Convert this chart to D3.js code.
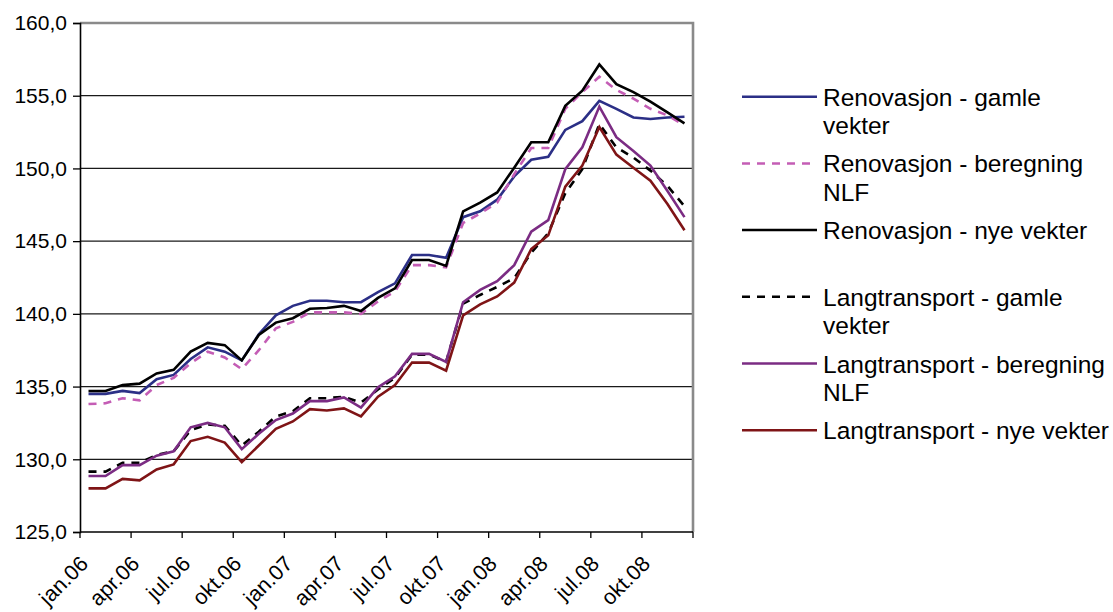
<!DOCTYPE html>
<html>
<head>
<meta charset="utf-8">
<script src="https://cdn.jsdelivr.net/npm/d3@7"></script>
<style>
  html, body { margin: 0; padding: 0; background: #fff; }
  svg { display: block; font-family: "Liberation Sans", Arial, sans-serif; }
</style>
</head>
<body>
<svg id="chart" width="1113" height="612"></svg>
<script>
// Monthly index, January 2006 – December 2008
const months = [
  "jan.06","feb.06","mar.06","apr.06","mai.06","jun.06","jul.06","aug.06","sep.06","okt.06","nov.06","des.06",
  "jan.07","feb.07","mar.07","apr.07","mai.07","jun.07","jul.07","aug.07","sep.07","okt.07","nov.07","des.07",
  "jan.08","feb.08","mar.08","apr.08","mai.08","jun.08","jul.08","aug.08","sep.08","okt.08","nov.08","des.08"
];
const labelledMonths = ["jan.06","apr.06","jul.06","okt.06","jan.07","apr.07","jul.07","okt.07","jan.08","apr.08","jul.08","okt.08"];
const yTicks = [125, 130, 135, 140, 145, 150, 155, 160];

const renGamle = [
  134.5,134.5,134.7,134.55,135.5,135.8,136.9,137.7,137.4,136.8,138.6,139.9,
  140.55,140.9,140.9,140.8,140.8,141.5,142.1,144.05,144.05,143.85,146.65,147.05,
  147.85,149.45,150.6,150.8,152.65,153.25,154.65,154.1,153.5,153.4,153.5,153.55
];
const renNLF = [
  133.8,133.85,134.2,134.05,135.1,135.6,136.6,137.4,137.0,136.2,137.5,139.0,
  139.45,140.1,140.1,140.1,140.0,140.85,141.55,143.35,143.35,143.2,146.25,146.9,
  147.65,149.6,151.4,151.4,154.1,155.25,156.3,155.4,154.8,154.1,153.65,152.95
];
const renNye = [
  134.7,134.7,135.1,135.2,135.9,136.15,137.4,138.0,137.85,136.8,138.55,139.4,
  139.7,140.35,140.4,140.55,140.2,141.1,141.75,143.7,143.7,143.3,147.05,147.65,
  148.35,150.05,151.8,151.8,154.3,155.35,157.15,155.8,155.25,154.6,153.85,153.1
];
const langGamle = [
  129.15,129.15,129.75,129.75,130.3,130.55,132.0,132.4,132.3,130.95,131.9,132.95,
  133.3,134.2,134.2,134.3,133.9,134.8,135.6,137.2,137.2,136.7,140.7,141.3,
  141.85,142.45,144.2,145.55,148.3,149.95,153.05,151.45,150.75,149.85,148.8,147.4
];
const langNLF = [
  128.85,128.85,129.6,129.6,130.25,130.55,132.2,132.5,132.2,130.7,131.75,132.7,
  133.15,134.0,134.0,134.25,133.55,134.95,135.7,137.25,137.25,136.7,140.8,141.65,
  142.25,143.35,145.65,146.45,149.95,151.45,154.25,152.15,151.2,150.2,148.45,146.65
];
const langNye = [
  128.0,128.0,128.65,128.55,129.3,129.65,131.25,131.55,131.15,129.8,130.95,132.1,
  132.6,133.45,133.35,133.5,132.95,134.3,135.1,136.65,136.65,136.1,139.9,140.65,
  141.2,142.15,144.45,145.4,148.75,150.2,152.85,150.95,150.05,149.15,147.55,145.75
];

const seriesNames = [
  ["Renovasjon - gamle", "vekter"],
  ["Renovasjon - beregning", "NLF"],
  ["Renovasjon - nye vekter"],
  ["Langtransport - gamle", "vekter"],
  ["Langtransport - beregning", "NLF"],
  ["Langtransport - nye vekter"]
];
const seriesValues = [renGamle, renNLF, renNye, langGamle, langNLF, langNye];
const seriesColors = ["#2b2f86", "#c45db5", "#000000", "#000000", "#7b2c83", "#7f1416"];
const seriesDash = [null, "8,7", null, "8,7", null, null];

const svg = d3.select("#chart");
const plot = { left: 80, right: 693, top: 23, bottom: 532 };

const x = d3.scaleBand().domain(months).range([plot.left, plot.right]).paddingInner(0).paddingOuter(0);
const y = d3.scaleLinear().domain([125, 160]).range([plot.bottom, plot.top]);
const xc = m => x(m) + x.bandwidth() / 2;

// horizontal gridlines
svg.append("g")
  .selectAll("line")
  .data(yTicks.filter(v => v > 125 && v < 160))
  .join("line")
  .attr("x1", plot.left).attr("x2", plot.right)
  .attr("y1", d => y(d)).attr("y2", d => y(d))
  .attr("stroke", "#1a1a1a").attr("stroke-width", 1.3);

// plot area frame (top and right)
svg.append("path")
  .attr("d", `M${plot.left},${plot.top}H${plot.right}V${plot.bottom}`)
  .attr("fill", "none").attr("stroke", "#8a8a8a").attr("stroke-width", 2.6);

// y axis
const yAxis = svg.append("g")
  .attr("transform", `translate(${plot.left},0)`)
  .call(d3.axisLeft(y).tickValues(yTicks).tickSize(7).tickPadding(6)
    .tickFormat(d => d3.format(".1f")(d).replace(".", ",")));
yAxis.select(".domain").attr("stroke", "#000").attr("stroke-width", 1.6);
yAxis.selectAll(".tick line").attr("stroke", "#000").attr("stroke-width", 1.3);
yAxis.selectAll("text").attr("font-size", 21).attr("fill", "#000")
  .attr("font-family", "Liberation Sans, Arial, sans-serif");

// x axis: tick marks every third month boundary
const boundaryTicks = d3.range(0, months.length + 1, 3).map(i => plot.left + i * x.bandwidth());
const xAxisG = svg.append("g");
xAxisG.append("line")
  .attr("x1", plot.left).attr("x2", plot.right)
  .attr("y1", plot.bottom).attr("y2", plot.bottom)
  .attr("stroke", "#000").attr("stroke-width", 1.6);
xAxisG.selectAll("line.tick")
  .data(boundaryTicks)
  .join("line").attr("class", "tick")
  .attr("x1", d => d).attr("x2", d => d)
  .attr("y1", plot.bottom).attr("y2", plot.bottom + 6)
  .attr("stroke", "#000").attr("stroke-width", 1.3);
xAxisG.selectAll("text")
  .data(labelledMonths)
  .join("text")
  .attr("transform", d => `translate(${xc(d) + 1},${plot.bottom + 33}) rotate(-45)`)
  .attr("text-anchor", "end")
  .attr("font-size", 21.5)
  .attr("fill", "#000")
  .text(d => d);

// series lines
const line = d3.line().x((d, i) => xc(months[i])).y(d => y(d));
svg.append("g")
  .selectAll("path")
  .data(seriesValues.map((v, i) => ({ v, i })))
  .join("path")
  .attr("d", d => line(d.v))
  .attr("fill", "none")
  .attr("stroke", d => seriesColors[d.i])
  .attr("stroke-width", 2.6)
  .attr("stroke-linejoin", "miter")
  .attr("stroke-dasharray", d => seriesDash[d.i]);

// legend
const legend = svg.append("g");
const legendTop = 96.7, legendStep = 66.7;
seriesNames.forEach((lines, i) => {
  const ly = legendTop + i * legendStep;
  legend.append("line")
    .attr("x1", 742).attr("x2", 817).attr("y1", ly).attr("y2", ly)
    .attr("stroke", seriesColors[i]).attr("stroke-width", 2.5)
    .attr("stroke-dasharray", seriesDash[i]);
  const t = legend.append("text")
    .attr("x", 823).attr("y", ly + 9)
    .attr("font-size", 24.5).attr("fill", "#000");
  lines.forEach((s, k) => {
    t.append("tspan").attr("x", 823).attr("dy", k === 0 ? 0 : 28.5).text(s);
  });
});
</script>
</body>
</html>
